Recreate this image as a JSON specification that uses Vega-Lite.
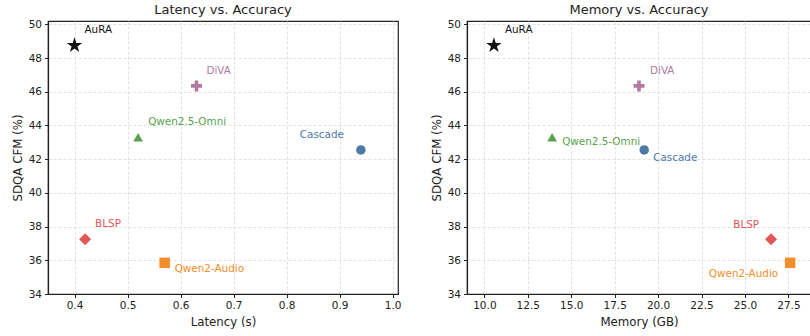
{
  "$schema": "https://vega.github.io/schema/vega-lite/v6.json",
  "padding": {"left": 11, "top": 3, "right": 0, "bottom": 0},
  "spacing": 28,
  "datasets": {
    "models": [
      {"model": "AuRA", "latency": 0.40, "memory": 10.55, "cfm": 48.75},
      {"model": "DiVA", "latency": 0.63, "memory": 18.9, "cfm": 46.35},
      {"model": "Qwen2.5-Omni", "latency": 0.52, "memory": 13.9, "cfm": 43.3},
      {"model": "Cascade", "latency": 0.94, "memory": 19.2, "cfm": 42.55},
      {"model": "BLSP", "latency": 0.42, "memory": 26.5, "cfm": 37.25},
      {"model": "Qwen2-Audio", "latency": 0.57, "memory": 27.6, "cfm": 35.85}
    ]
  },
  "hconcat": [
    {
      "width": 350,
      "height": 273,
      "title": "Latency vs. Accuracy",
      "data": {"name": "models"},
      "encoding": {
        "x": {"field": "latency", "type": "quantitative", "title": "Latency (s)",
              "scale": {"domain": [0.35, 1.01], "nice": false, "zero": false},
              "axis": {"values": [0.4, 0.5, 0.6, 0.7, 0.8, 0.9, 1.0], "format": ".1f"}},
        "y": {"field": "cfm", "type": "quantitative", "title": "SDQA CFM (%)",
              "scale": {"domain": [34, 50.2], "nice": false, "zero": false},
              "axis": {"values": [34, 36, 38, 40, 42, 44, 46, 48, 50]}},
        "color": {"field": "model", "type": "nominal", "legend": null,
                  "scale": {"domain": ["AuRA", "DiVA", "Qwen2.5-Omni", "Cascade", "BLSP", "Qwen2-Audio"],
                            "range": ["#111111", "#b07aa1", "#59a14f", "#4e79a7", "#e15759", "#f28e2b"]}}
      },
      "layer": [
        {
          "mark": {"type": "point", "filled": true, "opacity": 1},
          "encoding": {
            "shape": {"field": "model", "type": "nominal", "legend": null,
                      "scale": {"domain": ["AuRA", "DiVA", "Qwen2.5-Omni", "Cascade", "BLSP", "Qwen2-Audio"],
                                "range": ["M0,-1L0.225,-0.309L0.951,-0.309L0.363,0.118L0.588,0.809L0,0.382L-0.588,0.809L-0.363,0.118L-0.951,-0.309L-0.225,-0.309Z",
                                          "M-1,-0.333L-0.333,-0.333L-0.333,-1L0.333,-1L0.333,-0.333L1,-0.333L1,0.333L0.333,0.333L0.333,1L-0.333,1L-0.333,0.333L-1,0.333Z",
                                          "triangle-up", "circle",
                                          "M0,-1L1,0L0,1L-1,0Z", "square"]}},
            "size": {"field": "model", "type": "nominal", "legend": null,
                     "scale": {"type": "ordinal", "domain": ["AuRA", "DiVA", "Qwen2.5-Omni", "Cascade", "BLSP", "Qwen2-Audio"],
                               "range": [260, 121, 95, 90, 144, 110]}}
          }
        },
        {
          "transform": [{"filter": {"field": "model", "oneOf": ["AuRA", "DiVA", "Qwen2.5-Omni", "BLSP"]}}],
          "mark": {"type": "text", "align": "left", "baseline": "middle", "dx": 10, "dy": -15, "fontSize": 10.4},
          "encoding": {"text": {"field": "model"}}
        },
        {
          "transform": [{"filter": {"field": "model", "equal": "Cascade"}}],
          "mark": {"type": "text", "align": "right", "baseline": "middle", "dx": -17, "dy": -15, "fontSize": 10.4},
          "encoding": {"text": {"field": "model"}}
        },
        {
          "transform": [{"filter": {"field": "model", "equal": "Qwen2-Audio"}}],
          "mark": {"type": "text", "align": "left", "baseline": "middle", "dx": 10, "dy": 6, "fontSize": 10.4},
          "encoding": {"text": {"field": "model"}}
        }
      ]
    },
    {
      "width": 344,
      "height": 273,
      "title": "Memory vs. Accuracy",
      "data": {"name": "models"},
      "encoding": {
        "x": {"field": "memory", "type": "quantitative", "title": "Memory (GB)",
              "scale": {"domain": [9, 28.8], "nice": false, "zero": false},
              "axis": {"values": [10, 12.5, 15, 17.5, 20, 22.5, 25, 27.5], "format": ".1f"}},
        "y": {"field": "cfm", "type": "quantitative", "title": "SDQA CFM (%)",
              "scale": {"domain": [34, 50.2], "nice": false, "zero": false},
              "axis": {"values": [34, 36, 38, 40, 42, 44, 46, 48, 50]}},
        "color": {"field": "model", "type": "nominal", "legend": null,
                  "scale": {"domain": ["AuRA", "DiVA", "Qwen2.5-Omni", "Cascade", "BLSP", "Qwen2-Audio"],
                            "range": ["#111111", "#b07aa1", "#59a14f", "#4e79a7", "#e15759", "#f28e2b"]}}
      },
      "layer": [
        {
          "mark": {"type": "point", "filled": true, "opacity": 1},
          "encoding": {
            "shape": {"field": "model", "type": "nominal", "legend": null,
                      "scale": {"domain": ["AuRA", "DiVA", "Qwen2.5-Omni", "Cascade", "BLSP", "Qwen2-Audio"],
                                "range": ["M0,-1L0.225,-0.309L0.951,-0.309L0.363,0.118L0.588,0.809L0,0.382L-0.588,0.809L-0.363,0.118L-0.951,-0.309L-0.225,-0.309Z",
                                          "M-1,-0.333L-0.333,-0.333L-0.333,-1L0.333,-1L0.333,-0.333L1,-0.333L1,0.333L0.333,0.333L0.333,1L-0.333,1L-0.333,0.333L-1,0.333Z",
                                          "triangle-up", "circle",
                                          "M0,-1L1,0L0,1L-1,0Z", "square"]}},
            "size": {"field": "model", "type": "nominal", "legend": null,
                     "scale": {"type": "ordinal", "domain": ["AuRA", "DiVA", "Qwen2.5-Omni", "Cascade", "BLSP", "Qwen2-Audio"],
                               "range": [260, 121, 95, 90, 144, 110]}}
          }
        },
        {
          "transform": [{"filter": {"field": "model", "oneOf": ["AuRA", "DiVA"]}}],
          "mark": {"type": "text", "align": "left", "baseline": "middle", "dx": 11, "dy": -15, "fontSize": 10.4},
          "encoding": {"text": {"field": "model"}}
        },
        {
          "transform": [{"filter": {"field": "model", "equal": "Qwen2.5-Omni"}}],
          "mark": {"type": "text", "align": "left", "baseline": "middle", "dx": 10, "dy": 5, "fontSize": 10.4},
          "encoding": {"text": {"field": "model"}}
        },
        {
          "transform": [{"filter": {"field": "model", "equal": "Cascade"}}],
          "mark": {"type": "text", "align": "left", "baseline": "middle", "dx": 9, "dy": 8, "fontSize": 10.4},
          "encoding": {"text": {"field": "model"}}
        },
        {
          "transform": [{"filter": {"field": "model", "equal": "BLSP"}}],
          "mark": {"type": "text", "align": "right", "baseline": "middle", "dx": -12, "dy": -14, "fontSize": 10.4},
          "encoding": {"text": {"field": "model"}}
        },
        {
          "transform": [{"filter": {"field": "model", "equal": "Qwen2-Audio"}}],
          "mark": {"type": "text", "align": "right", "baseline": "middle", "dx": -12, "dy": 11, "fontSize": 10.4},
          "encoding": {"text": {"field": "model"}}
        }
      ]
    }
  ],
  "config": {
    "font": "DejaVu Sans",
    "view": {"stroke": "#222222", "strokeWidth": 1.2},
    "title": {"fontSize": 13, "fontWeight": "normal", "color": "#222222", "offset": 2},
    "axis": {
      "domainColor": "#222222", "domainWidth": 1.2,
      "tickColor": "#222222", "tickSize": 3.5, "tickWidth": 1,
      "labelFontSize": 10.5, "labelColor": "#222222", "labelPadding": 3,
      "titleFontSize": 11.8, "titleFontWeight": "normal", "titleColor": "#222222", "titlePadding": 5,
      "gridColor": "#d9d9d9", "gridDash": [3, 2], "gridWidth": 0.8
    },
    "text": {"font": "DejaVu Sans"}
  }
}
